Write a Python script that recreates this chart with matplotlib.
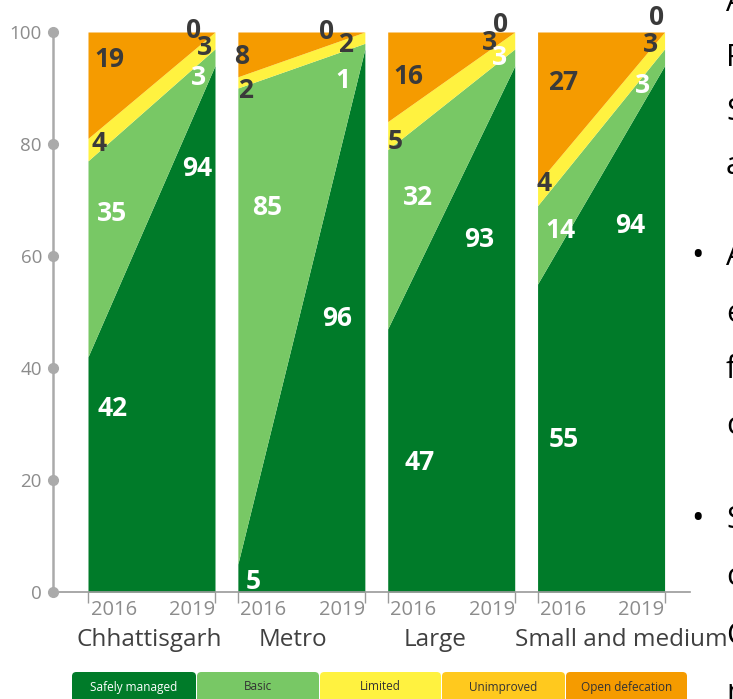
import numpy as np
import matplotlib.pyplot as plt
from matplotlib.patches import FancyBboxPatch
from matplotlib.transforms import blended_transform_factory

plt.rcParams['font.family'] = ['Open Sans', 'DejaVu Sans']

# ---- data -------------------------------------------------------------
groups = ['Chhattisgarh', 'Metro', 'Large', 'Small and medium']
years = ['2016', '2019']
series = ['Safely managed', 'Basic', 'Limited', 'Unimproved', 'Open defecation']

safely_managed = [[42, 94], [5, 96], [47, 93], [55, 94]]
basic = [[35, 3], [85, 1], [32, 3], [14, 3]]
limited = [[4, 3], [2, 2], [5, 3], [4, 3]]
unimproved = [[0, 0], [0, 0], [0, 0], [0, 0]]
open_defecation = [[19, 0], [8, 0], [16, 0], [27, 0]]

# ---- style ------------------------------------------------------------
fill_colors = ['#007B29', '#78C865', '#FFF240', '#FFC91E', '#F59B00']
label_colors = ['white', 'white', '#3A3A3A', '#3A3A3A', '#3A3A3A']
legend_text_colors = ['white', '#333333', '#333333', '#333333', '#333333']

group_width = 1.0
group_step = 1.18

# value-label placement: (series index, year index, x offset in group, y)
label_layout = [
    [(4, 0, 0.17, 95.0), (2, 0, 0.09, 80.0), (1, 0, 0.19, 67.5), (0, 0, 0.19, 32.7),
     (4, 1, 0.83, 100.3), (2, 1, 0.92, 97.3), (1, 1, 0.87, 91.8), (0, 1, 0.86, 75.7)],
    [(4, 0, 0.03, 95.7), (2, 0, 0.06, 89.6), (1, 0, 0.23, 68.7), (0, 0, 0.12, 1.8),
     (4, 1, 0.70, 100.0), (2, 1, 0.85, 97.7), (1, 1, 0.83, 91.4), (0, 1, 0.78, 48.9)],
    [(4, 0, 0.16, 92.0), (2, 0, 0.06, 80.4), (1, 0, 0.24, 70.5), (0, 0, 0.25, 23.2),
     (4, 1, 0.89, 101.3), (2, 1, 0.80, 98.2), (1, 1, 0.88, 95.4), (0, 1, 0.72, 62.9)],
    [(4, 0, 0.20, 90.9), (2, 0, 0.05, 73.0), (1, 0, 0.18, 64.6), (0, 0, 0.21, 27.3),
     (4, 1, 0.94, 102.5), (2, 1, 0.89, 97.7), (1, 1, 0.83, 90.5), (0, 1, 0.73, 65.5)],
]
group_label_offsets = [-0.02, -0.07, -0.13, 0.16]

W, H = 733, 699
fig = plt.figure(figsize=(W / 100, H / 100), dpi=100)
ax = fig.add_axes([53 / W, (H - 592) / H, (690 - 53) / W, (592 - 32) / H])

all_series = [safely_managed, basic, limited, unimproved, open_defecation]
starts = [i * group_step for i in range(len(groups))]

for g, x0 in enumerate(starts):
    xs = [x0, x0 + group_width]
    raw = np.array([[s[g][0], s[g][1]] for s in all_series], dtype=float)
    shares = raw / raw.sum(axis=0) * 100.0
    bottom = np.zeros(2)
    for k in range(len(series)):
        top = bottom + shares[k]
        ax.fill_between(xs, bottom, top, color=fill_colors[k], linewidth=0)
        bottom = top
    for (k, yi, dx, yv) in label_layout[g]:
        ax.text(x0 + dx, yv, str(all_series[k][g][yi]), ha='center', va='center',
                fontsize=19, fontweight='bold', color=label_colors[k], zorder=5)

ax.set_xlim(-35 / 127, (690 - 88) / 127)
ax.set_ylim(0, 100)

for side in ['top', 'right']:
    ax.spines[side].set_visible(False)
ax.spines['left'].set_color('#AAAAAA')
ax.spines['left'].set_linewidth(1.8)
ax.spines['bottom'].set_color('#9A9A9A')
ax.spines['bottom'].set_linewidth(1.2)

yt = [0, 20, 40, 60, 80, 100]
ax.set_yticks(yt)
ax.set_yticklabels([str(v) for v in yt], fontsize=13.5, color='#8C8C8C')
ax.tick_params(axis='y', length=0, pad=8)
ax.plot([ax.get_xlim()[0]] * len(yt), yt, 'o', color='#AAAAAA', ms=7,
        clip_on=False, zorder=6)

xt = []
for x0 in starts:
    xt += [x0, x0 + group_width]
ax.set_xticks(xt)
ax.set_xticklabels([''] * len(xt))
ax.tick_params(axis='x', length=8, width=1, color='#9A9A9A', direction='out')

tr = blended_transform_factory(ax.transData, ax.transAxes)
for g, x0 in enumerate(starts):
    ax.text(x0 + 0.02, -0.032, years[0], transform=tr, ha='left', va='center',
            fontsize=14.5, color='#8C8C8C')
    ax.text(x0 + group_width, -0.032, years[1], transform=tr, ha='right', va='center',
            fontsize=14.5, color='#8C8C8C')
    ax.text(x0 + group_width / 2 + group_label_offsets[g], -0.086, groups[g],
            transform=tr, ha='center', va='center', fontsize=17.5, color='#404040',
            zorder=4)

# legend strip
box_edges = [72, 197, 320, 442, 566, 688]
for k, name in enumerate(series):
    x_left = box_edges[k] / W
    width = (box_edges[k + 1] - box_edges[k] - 1) / W
    box = FancyBboxPatch((x_left, (H - 712) / H), width, 40 / H,
                         boxstyle='round,pad=0,rounding_size=0.006',
                         transform=fig.transFigure, facecolor=fill_colors[k],
                         edgecolor='none')
    fig.patches.append(box)
    fig.text(x_left + width / 2, (H - 687) / H, name, ha='center', va='center',
             fontsize=8.5, color=legend_text_colors[k])

# neighbouring slide text running off the right edge
side_lines = [(3, 'A'), (58, 'P'), (112, 'S'), (166, 'a'),
              (257, 'A'), (314, 'e'), (370, 'f'), (426, 'c'),
              (520, 'S'), (577, 'c'), (636, 'C'), (693, 'r')]
for y_px, word in side_lines:
    fig.text(726 / W, (H - y_px) / H, word, ha='left', va='center',
             fontsize=22, color='black', zorder=1)
for y_px in [257, 520]:
    fig.text(697 / W, (H - y_px) / H, '\u2022', ha='center', va='center',
             fontsize=24, color='black')

fig.savefig('out.png', dpi=100)
